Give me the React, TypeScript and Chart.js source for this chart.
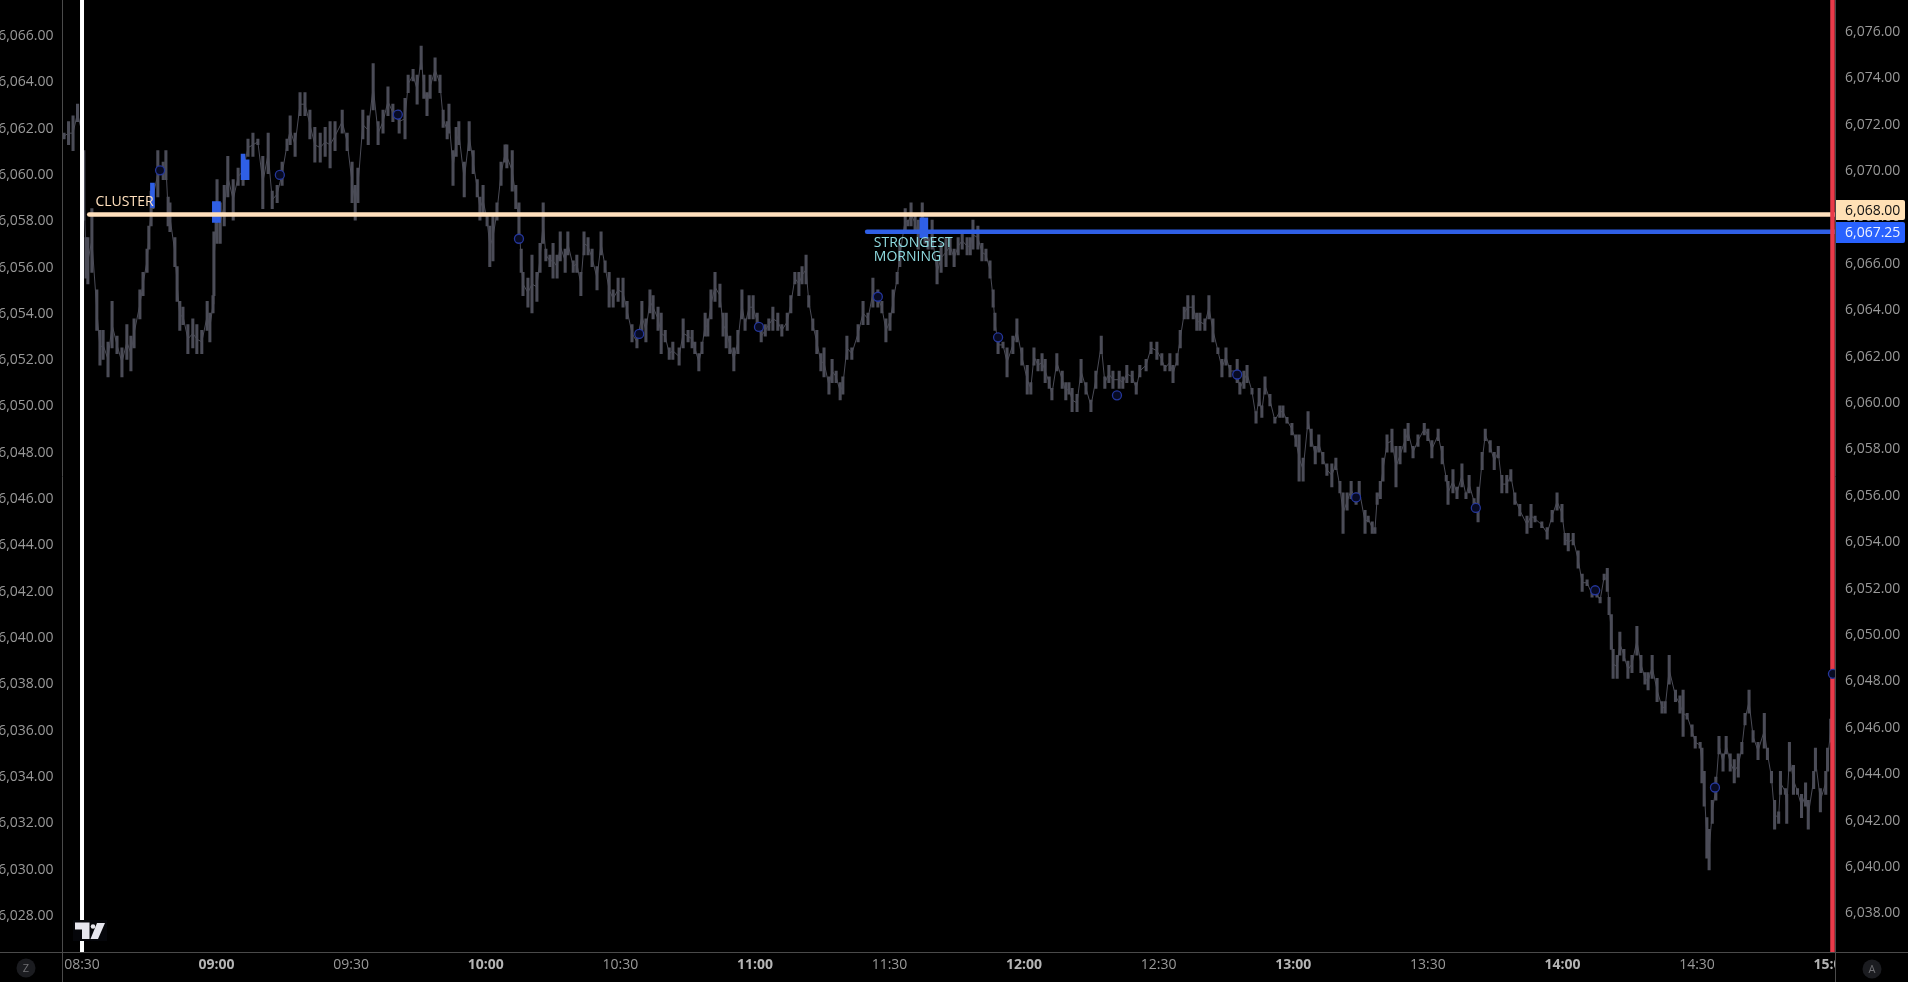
import React, { useEffect, useRef } from "react";
import { Chart, registerables } from "chart.js";

Chart.register(...registerables);

const barTimes = [
  506,507,508,509,510,510.4,510.9,511.3,512.2,513.3,
  514,514.7,515.8,516.7,517.8,518.9,520,520.9,521.6,522.9,
  523.6,524.5,524.9,525.4,525.8,526.9,528.1,528.7,529.2,529.6,
  530.7,531.2,531.8,532.5,533.6,534.7,535.6,536.7,537.9,538.5,
  539.2,539.4,539.9,540.1,540.8,541.7,542.5,543.7,544.8,545.9,
  547,548.1,549.2,550.3,551.5,552.4,553.5,554.6,555.7,556.4,
  557.5,558.6,559.7,560.8,561.9,563.1,564.2,565.3,566.4,568,
  569.1,570.2,570.9,571.5,572.6,573.8,574.9,576,577.1,578.2,
  579.3,580.7,582,582.7,583.8,584.7,585.6,586.2,586.9,587.6,
  588.7,589.8,590.5,591.4,591.8,592.7,593.4,594,595.2,596.3,
  597.2,598.1,598.7,599.4,600.3,600.9,601.6,602.5,603.4,604.3,
  604.7,605.9,606.7,607.4,607.9,608.3,609.4,610.3,611.4,612.1,
  612.8,613.4,614.3,615,615.9,616.6,617.7,618.3,619.5,620.3,
  621.2,621.9,622.8,623.7,624.8,625.7,626.6,627.5,628.4,629.5,
  630.6,631.5,632.6,633.7,634.8,635.7,636.6,637.3,638.4,639.1,
  640,640.9,641.7,643.1,644,645.1,646,646.6,647.5,648.2,
  648.9,649.5,650.2,651.1,652.2,652.9,653.6,654.4,655.3,656.2,
  657.1,657.8,658.7,659.6,660.5,661.4,662.3,663.1,664,665.1,
  666,667.2,668,668.9,669.8,670.5,671.4,672,672.9,673.8,
  674.7,675.4,676.5,677.2,678.1,679,679.6,680.5,681.6,683,
  684.1,685.2,686.3,687.4,688.3,689.2,690.1,690.8,691.7,692.3,
  693.5,694.1,694.8,695.7,696.4,697.3,697.9,698.6,699.5,700.6,
  701.5,702.6,703.5,704.4,705.3,706.2,707.3,708,708.6,709.7,
  710.6,711.5,712.4,713.1,713.5,714.2,715.3,716.2,717.5,718.4,
  719.5,720.7,721.5,722.2,723.1,724,724.7,725.6,726.2,727.3,
  728.5,729.3,730,730.7,731.8,732.7,733.8,734.9,736,737.2,
  738,738.9,739.8,741.2,742,742.9,744.1,745,745.8,747.2,
  748.3,749.6,750.7,751.4,752.5,753.2,754.1,754.8,755.7,756.5,
  757.7,758.5,759.2,760.3,761.2,762.1,763.2,764.1,765,765.9,
  767.5,768.1,769,769.7,770.8,771.7,772.4,773,773.7,774.8,
  775.9,777,777.7,778.6,779.7,780.6,781.3,782.2,783.3,784,
  784.9,785.7,786.6,787.5,788.6,789.5,790.4,791.1,792,792.9,
  794,794.7,796,796.7,797.6,798.2,798.7,799.4,800,800.9,
  802,802.9,803.8,804.9,805.6,806.7,807.8,809.2,810,810.9,
  812.3,813.2,814.1,814.5,815.6,816.5,817.6,818.5,819.2,820.3,
  821.2,822.1,822.8,823.9,824.8,825.7,826.5,827.6,828.5,829.4,
  830.5,832.1,833,833.9,835.4,836.6,837.7,838.8,839.9,840.6,
  841.3,842.4,843.5,844.4,845.5,846.6,847.7,848.4,849.3,850,
  850.4,850.9,851.3,852.2,852.8,853.7,854.6,855.5,856.6,857.5,
  858.4,859.1,860,861.1,862.2,862.9,863.8,865.2,866.2,866.9,
  867.8,868.9,869.6,870.7,871.1,871.6,872.2,872.7,873.4,874.2,
  874.9,875.8,876.5,877.4,878.3,879.2,880,880.7,881.6,882.5,
  883.6,885,885.7,886.6,887.3,888.2,888.6,889.7,890,890.6,
  891.5,892.4,893.3,894.2,894.8,896,896.4,897.5,898.7,899.1,
  899.8,900.2,
];

const barHighs = [
  6071.5,6072,6072.25,6072.75,6072.25,6070.75,6067,6067,6068.25,6064.75,
  6063,6063,6062.5,6064.25,6062.75,6062.25,6063.25,6062.75,6063.5,6064.75,
  6065.5,6066.5,6067.5,6069,6069.25,6070.75,6070.25,6070.75,6068.75,6068.5,
  6067,6065.75,6064.25,6064,6063.25,6063.5,6063.25,6063,6064.25,6063.75,
  6064.5,6067.25,6068.25,6069.5,6068.5,6069.25,6070.5,6069.5,6070,6070.5,
  6071.25,6071.5,6071.25,6070.5,6071.5,6069,6069.25,6070.25,6071.25,6072.25,
  6071.5,6073.25,6073.25,6072.5,6071.75,6071.5,6071.75,6072,6072,6072.5,
  6071.5,6070.25,6069.25,6070,6072.5,6072.25,6074.5,6072,6072.5,6073.5,
  6072.75,6072.5,6073,6074,6074.25,6074,6075.25,6074,6073.25,6074,
  6074.75,6074,6072.5,6072,6072.75,6070.75,6071.75,6072,6070.25,6072,
  6070.75,6069.5,6068.75,6069.25,6068,6067.5,6068,6068.5,6070.25,6071,
  6071,6070.75,6069.25,6068.5,6066.5,6065.5,6065.25,6066.25,6065.5,6066.75,
  6068.5,6066.5,6066.25,6066.75,6066.25,6067.25,6066.5,6067.25,6066,6066.25,
  6065.5,6067.25,6067,6066.5,6065.75,6067.25,6066,6065.5,6064.75,6065.25,
  6065.25,6064.25,6063.25,6062.75,6064.25,6063.5,6064.75,6064.5,6064,6063.75,
  6063,6062.25,6062.5,6062.25,6063.5,6063,6063,6062.5,6062,6062.5,
  6063.75,6063.5,6064.75,6065.5,6065,6063.75,6063.75,6062.75,6062.25,6063,
  6064.75,6063.5,6064.5,6064.5,6063.75,6063,6063.25,6063.5,6064,6063.75,
  6063.25,6063.75,6064.5,6065.5,6065.5,6065.75,6066.25,6064.5,6063.5,6063,
  6062,6062.25,6061,6061.75,6061.25,6060.75,6061,6062.75,6062.25,6063.25,
  6064.25,6063.75,6065.25,6064.75,6064.25,6063.5,6063.75,6064.75,6065.5,6066.75,
  6068.25,6067.75,6068.5,6068,6067.75,6068.5,6067.25,6067,6067.75,6066,
  6066.75,6067,6067,6066.5,6067,6067.25,6067,6067,6067.75,6067.5,
  6066.75,6066.5,6066,6064.75,6063.75,6062.75,6062.5,6062.25,6062.75,6063.5,
  6062.25,6061.5,6060.75,6062.25,6061.75,6062,6061.75,6061,6060.5,6062,
  6061.25,6060.75,6060.75,6060.5,6060.25,6061.75,6060.75,6060,6061.25,6062.75,
  6061,6061.5,6061.25,6061.25,6061,6061.5,6061.25,6060.75,6061.5,6061.75,
  6062.5,6062.5,6062,6061.5,6062,6061.5,6062,6063,6064,6064.5,
  6064.5,6063.75,6063.75,6063.5,6064.5,6063.5,6062.25,6061.75,6062.25,6061.5,
  6061.75,6060.75,6061.25,6061.5,6060.5,6059.5,6060.5,6059.75,6061,6060.25,
  6059.25,6059.75,6059.75,6059.25,6059,6058.5,6058.5,6057.5,6059.5,6058.75,
  6058,6058.5,6057.75,6057.25,6057.25,6057.5,6056.5,6056,6056,6056.5,
  6056,6056.5,6055.25,6055,6054.75,6054.5,6056,6056.5,6057.5,6058.5,
  6058.75,6058,6058,6058.75,6059,6058,6058.5,6059,6058.75,6058.25,
  6058.75,6058,6056.75,6056.5,6057,6056.25,6057.25,6056,6056.75,6055.75,
  6056.25,6057.75,6058.75,6058.25,6057.75,6058,6056.75,6056.75,6057,6056,
  6055.5,6055,6055.5,6055,6054.75,6054.5,6055.25,6056,6055.5,6054.25,
  6054.25,6054.25,6053.5,6052.5,6052.25,6051.75,6051.75,6051.5,6052.5,6052.75,
  6051.5,6050.75,6049.25,6049,6050,6049.25,6048.75,6049,6050.25,6049,
  6048.25,6048.25,6049,6048,6047,6047,6049,6047.5,6047.25,6047.5,
  6046.5,6046,6045.5,6045.25,6045,6044,6042,6041.5,6042.75,6043.75,
  6045.5,6044.75,6045.5,6044.75,6044.5,6044.75,6045.25,6046.5,6047.5,6045.75,
  6045.25,6046.5,6045,6044,6042.75,6042.25,6044,6043.25,6043,6045.25,
  6044.25,6043.25,6043,6043.5,6042.75,6044,6045,6043.25,6044,6045,
  6046.25,6049.25,
];

const barLows = [
  6071.25,6071,6070.75,6072,6070.75,6067.75,6065.25,6065,6065.5,6063,
  6061.5,6061.75,6061,6062.25,6062,6061,6061.75,6061.25,6062.25,6063.5,
  6064.5,6065.5,6066.5,6067.5,6068.25,6068.75,6069.5,6069.5,6067.5,6067.25,
  6065.75,6064.25,6063,6063.25,6062,6062.25,6062,6062,6063,6062.5,
  6063.75,6064.5,6067.25,6066.75,6066.75,6067.5,6068.75,6067.75,6069.25,6069.25,
  6070.5,6070.5,6071,6068.25,6069.75,6068.25,6068.5,6069.25,6070.75,6071,
  6070.5,6072.25,6072.25,6071.25,6070.25,6070.25,6070.5,6070,6070.75,6071.5,
  6070.75,6068.5,6067.75,6068.5,6071.25,6071,6072.5,6071,6071.5,6072.25,
  6072,6071.5,6071.25,6073.25,6073.75,6072.75,6074.25,6073,6072.25,6073,
  6073.75,6073.25,6071.75,6071.25,6071.5,6069.25,6070.5,6071,6068.75,6070.75,
  6069.75,6068.75,6067.75,6068,6067.5,6065.75,6066,6067.75,6069.25,6070.25,
  6070,6069,6068.25,6067,6065.5,6064.5,6064,6063.75,6064.25,6065.5,
  6066.75,6066,6065.75,6065.25,6065.25,6066,6065.5,6066.25,6065.5,6065.5,
  6064.5,6066.25,6066.25,6065.75,6064.75,6066.25,6065.5,6064,6064,6064.25,
  6064,6063.5,6062.5,6062.25,6063,6062.5,6063.75,6063.5,6063,6062,
  6062.5,6061.75,6061.75,6061.5,6062.25,6062.5,6062.25,6062,6061.25,6062,
  6062.75,6062.75,6063.5,6064.25,6064,6062.75,6062.25,6062,6061.25,6062,
  6063.5,6063,6063.5,6063.5,6063,6062.5,6062.75,6063,6063,6063,
  6062.75,6063,6063.75,6065,6064.5,6065,6065,6064,6063,6062,
  6061.25,6061,6060.25,6060.75,6060.75,6060,6060.25,6061.75,6061.75,6062.5,
  6063.25,6063.25,6064,6064,6063.75,6062.5,6063,6063.75,6065,6065.75,
  6067.25,6067.5,6067.5,6067.25,6066.5,6067,6066.75,6066.5,6066.5,6065,
  6065.5,6065.75,6066.25,6065.75,6066.25,6066.5,6066.25,6066.25,6066.5,6066.5,
  6066,6066,6065.25,6064,6063,6062,6062.25,6061,6062,6062.5,
  6061.5,6060.25,6060.25,6061.5,6061.25,6061.25,6060.75,6060.5,6060,6061.25,
  6060.5,6060,6060.25,6059.5,6059.5,6060.75,6060.25,6059.5,6060.5,6062,
  6060.5,6060.75,6060.5,6060.5,6060.5,6060.75,6060.75,6060.25,6061,6061.25,
  6062,6061.75,6061.5,6061.25,6061.25,6060.75,6061.5,6062.25,6063.5,6063.5,
  6063.5,6063,6063,6063,6063.5,6062.5,6062,6061,6061.5,6061,
  6060.75,6060.25,6060.5,6060.75,6060.25,6059,6059.75,6059.25,6060.25,6059.75,
  6059,6059.25,6059.25,6059,6058.5,6058,6056.5,6056.5,6058.75,6058,
  6057.25,6057.75,6057.25,6056.75,6056.25,6057,6056,6054.25,6055.25,6055.75,
  6055.5,6055.75,6054.25,6054.75,6054.25,6054.25,6055.5,6055.75,6056.5,6057.75,
  6057.75,6056.25,6057.25,6057.75,6058.25,6057.5,6058,6058.5,6058.25,6057.5,
  6058.25,6057.25,6056.5,6055.5,6056,6055.75,6056.25,6055.75,6056,6055.5,
  6054.75,6057,6058.25,6057.75,6057,6057.5,6056,6056,6056.5,6055.5,
  6055,6054.25,6054.5,6054.75,6054.5,6054,6054.75,6055.25,6054.75,6053.75,
  6053.5,6053.75,6052.75,6051.75,6052,6051.5,6051.5,6051.25,6052.25,6051.75,
  6050.75,6049.25,6048,6048,6049,6048.75,6048,6048.25,6049,6048.25,
  6047.75,6047.5,6048,6047,6046.5,6046.5,6047.75,6047,6046.5,6045.5,
  6046.25,6045.5,6045,6045,6043.5,6042.5,6040.25,6039.75,6041.75,6042.75,
  6044.75,6044,6044.75,6044,6043.5,6043.75,6044.75,6046,6046.5,6045.25,
  6044.5,6045,6044.5,6043.5,6041.5,6041.75,6043,6043,6041.75,6044,
  6043,6043,6042,6042.5,6041.5,6043.25,6044,6042.25,6043,6044,
  6045.25,6047.25,
];

const blueTimes = [525.7, 539.5, 540.4, 545.9, 546.8, 697.2, 698.1];
const blueHighs = [6069.35, 6068.55, 6068.55, 6070.6, 6070.35, 6067.85, 6067.85];
const blueLows = [6068.3, 6067.65, 6067.65, 6069.5, 6069.5, 6067, 6067];

const markerTimes = [527.4, 554.1, 580.4, 607.4, 634.2, 660.9, 687.4, 714.2, 740.7, 767.5, 794, 820.7, 847.3, 874, 900.3];
const markerPrices = [6069.9, 6069.7, 6072.3, 6066.95, 6062.85, 6063.15, 6064.45, 6062.7, 6060.2, 6061.1, 6055.8, 6055.35, 6051.8, 6043.3, 6048.2];

const clusterPrice = 6068;
const clusterStart = 511.6;
const morningPrice = 6067.25;
const morningStart = 685;
const sessionOpen = 510;
const sessionClose = 900.2;

const timeTicks = [510, 540, 570, 600, 630, 660, 690, 720, 750, 780, 810, 840, 870, 900];
const rightTicks = [6076, 6074, 6072, 6070, 6068, 6066, 6064, 6062, 6060, 6058, 6056, 6054, 6052, 6050, 6048, 6046, 6044, 6042, 6040, 6038];
const leftTicks = [6066, 6064, 6062, 6060, 6058, 6056, 6054, 6052, 6050, 6048, 6046, 6044, 6042, 6040, 6038, 6036, 6034, 6032, 6030, 6028];

const X_MIN = 505.65;
const X_MAX = 900.76;
const R_MIN = 6036.21;
const R_MAX = 6077.24;
const L_MIN = 6026.32;
const L_MAX = 6067.42;

const FONT = '"Open Sans", sans-serif';
const PEACH = "#ffe0bd";
const BLUE = "#2f5fe6";
const RED = "#e93a4a";
const AXIS = "#4a4a4a";
const TEXT = "#999999";
const TRACE = "#4b4c57";

const fmtPrice = (v: number) =>
  v.toLocaleString("en-US", { minimumFractionDigits: 2, maximumFractionDigits: 2 });
const fmtTime = (m: number) =>
  `${String(Math.floor(m / 60)).padStart(2, "0")}:${String(m % 60).padStart(2, "0")}`;

const zeroPad = (scale: any) => {
  scale.paddingTop = 0;
  scale.paddingBottom = 0;
  scale.paddingLeft = 0;
  scale.paddingRight = 0;
};

// nudge a vertical axis' labels down to sit where the reference draws them
const shiftLabels = (scale: any) => {
  const compute = scale._computeLabelItems.bind(scale);
  scale._computeLabelItems = (area: any) =>
    compute(area).map((item: any) => ({
      ...item,
      options: {
        ...item.options,
        translation: [item.options.translation[0], item.options.translation[1] + 1.5],
      },
    }));
};

const overlay = {
  id: "overlay",
  afterDatasetsDraw(chart: any) {
    const { ctx, scales } = chart;
    const x = scales.x;
    const y = scales.y;
    ctx.save();
    ctx.font = `14px ${FONT}`;
    ctx.textBaseline = "middle";
    ctx.textAlign = "left";
    ctx.fillStyle = PEACH;
    ctx.fillText("CLUSTER", x.getPixelForValue(513), y.getPixelForValue(clusterPrice) - 12);
    ctx.fillStyle = "#8fdbe0";
    ctx.fillText("STRONGEST", x.getPixelForValue(686.5), y.getPixelForValue(morningPrice) + 11);
    ctx.fillText("MORNING", x.getPixelForValue(686.5), y.getPixelForValue(morningPrice) + 25);
    ctx.restore();
  },
  afterDraw(chart: any) {
    const { ctx, chartArea, width, height, scales } = chart;
    const y = scales.y;
    ctx.save();
    // clip the time axis at the price axis
    ctx.fillStyle = "#000";
    ctx.fillRect(chartArea.right, chartArea.bottom + 1, width - chartArea.right, height - chartArea.bottom);
    ctx.strokeStyle = AXIS;
    ctx.lineWidth = 1;
    ctx.beginPath();
    ctx.moveTo(chartArea.left, chartArea.bottom);
    ctx.lineTo(chartArea.left, height);
    ctx.moveTo(chartArea.right + 0.5, chartArea.bottom);
    ctx.lineTo(chartArea.right + 0.5, height);
    ctx.moveTo(0, chartArea.bottom + 0.5);
    ctx.lineTo(width, chartArea.bottom + 0.5);
    ctx.stroke();

    // last-value tags
    const tag = (price: number, top: number, h: number, bg: string, fg: string) => {
      ctx.fillStyle = bg;
      ctx.beginPath();
      ctx.roundRect(chartArea.right + 1, top, 69, h, [0, 2, 2, 0]);
      ctx.fill();
      ctx.fillStyle = fg;
      ctx.font = `14px ${FONT}`;
      ctx.textAlign = "left";
      ctx.textBaseline = "middle";
      ctx.fillText(fmtPrice(price), chartArea.right + 10, top + h / 2 + 1);
    };
    tag(clusterPrice, Math.round(y.getPixelForValue(clusterPrice)) - 14, 20, "#ffe0b5", "#111");
    tag(morningPrice, Math.round(y.getPixelForValue(morningPrice)) - 10, 21, "#2962ff", "#eef2ff");

    // corner badges
    const badge = (cx: number, cy: number, s: string) => {
      ctx.fillStyle = "#1b1c20";
      ctx.beginPath();
      ctx.arc(cx, cy, 9.5, 0, Math.PI * 2);
      ctx.fill();
      ctx.fillStyle = "#6e6e72";
      ctx.font = `11px ${FONT}`;
      ctx.textAlign = "center";
      ctx.textBaseline = "middle";
      ctx.fillText(s, cx, cy + 0.5);
    };
    badge(26, 968, "Z");
    badge(1872, 969, "A");

    // watermark
    ctx.fillStyle = "#05060a";
    ctx.fillRect(73, 920, 34, 21);
    ctx.fillStyle = "#e6e6ee";
    ctx.beginPath();
    ctx.moveTo(75, 922.5);
    ctx.lineTo(89.5, 922.5);
    ctx.lineTo(89.5, 939);
    ctx.lineTo(82, 939);
    ctx.lineTo(82, 929.5);
    ctx.lineTo(75, 929.5);
    ctx.closePath();
    ctx.moveTo(97, 923);
    ctx.lineTo(105, 923);
    ctx.lineTo(98, 939);
    ctx.lineTo(90.5, 939);
    ctx.closePath();
    ctx.fill();
    ctx.beginPath();
    ctx.arc(93, 926.5, 2.3, 0, Math.PI * 2);
    ctx.fill();
    ctx.restore();
  },
};

export default function App() {
  const ref = useRef<HTMLCanvasElement | null>(null);

  useEffect(() => {
    if (!ref.current) return;
    const chart = new Chart(ref.current, {
      type: "bar",
      data: {
        datasets: [
          {
            type: "line",
            data: markerTimes.map((t, i) => ({ x: t, y: markerPrices[i] })),
            showLine: false,
            pointRadius: 4.5,
            pointBorderWidth: 1.3,
            pointBorderColor: "#24369a",
            pointBackgroundColor: "#070a22",
            order: 1,
            yAxisID: "y",
          },
          {
            type: "line",
            data: [
              { x: sessionClose, y: R_MIN },
              { x: sessionClose, y: R_MAX },
            ],
            borderColor: RED,
            borderWidth: 4.5,
            pointRadius: 0,
            order: 2,
            yAxisID: "y",
          },
          {
            type: "line",
            data: [
              { x: clusterStart, y: clusterPrice },
              { x: X_MAX, y: clusterPrice },
            ],
            borderColor: PEACH,
            borderWidth: 4.5,
            borderCapStyle: "round",
            pointRadius: 0,
            order: 3,
            yAxisID: "y",
          },
          {
            type: "line",
            data: [
              { x: morningStart, y: morningPrice },
              { x: X_MAX, y: morningPrice },
            ],
            borderColor: BLUE,
            borderWidth: 4.5,
            borderCapStyle: "round",
            pointRadius: 0,
            order: 3,
            yAxisID: "y",
          },
          {
            type: "bar",
            data: blueTimes.map((t, i) => ({ x: t, y: [blueLows[i], blueHighs[i]] })),
            backgroundColor: BLUE,
            barThickness: 4,
            grouped: false,
            order: 4,
            yAxisID: "y",
          },
          {
            type: "line",
            data: [
              { x: sessionOpen, y: R_MIN },
              { x: sessionOpen, y: R_MAX },
            ],
            borderColor: "#ffffff",
            borderWidth: 4,
            pointRadius: 0,
            order: 5,
            yAxisID: "y",
          },
          {
            type: "bar",
            data: barTimes.map((t, i) => ({ x: t, y: [barLows[i], barHighs[i]] })),
            backgroundColor: TRACE,
            barThickness: 2.4,
            grouped: false,
            order: 6,
            yAxisID: "y",
          },
          {
            type: "line",
            data: barTimes.map((t, i) => ({ x: t, y: (barLows[i] + barHighs[i]) / 2 })),
            borderColor: TRACE,
            borderWidth: 1,
            pointRadius: 0,
            order: 7,
            yAxisID: "y",
          },
        ] as any,
      },
      options: {
        animation: false,
        responsive: false,
        devicePixelRatio: 1,
        layout: { padding: 0, autoPadding: false },
        plugins: { legend: { display: false }, tooltip: { enabled: false } },
        scales: {
          x: {
            type: "linear",
            position: "bottom",
            min: X_MIN,
            max: X_MAX,
            offset: false,
            grid: { display: false, drawTicks: false },
            border: { display: false },
            afterBuildTicks: (s: any) => {
              s.ticks = timeTicks.map((value) => ({ value }));
            },
            afterFit: (s: any) => {
              s.height = 30;
              zeroPad(s);
            },
            ticks: {
              autoSkip: false,
              maxRotation: 0,
              minRotation: 0,
              padding: 5,
              font: (c: any) => ({
                family: FONT,
                size: 14,
                weight: c.tick && c.tick.value % 60 === 0 ? "bold" : "normal",
              }),
              color: (c: any) => (c.tick && c.tick.value % 60 === 0 ? "#b4b4b4" : TEXT),
              callback: (v: any) => fmtTime(Number(v)),
            },
          },
          y: {
            type: "linear",
            position: "right",
            min: R_MIN,
            max: R_MAX,
            grid: { display: false, drawTicks: false },
            border: { color: AXIS },
            afterBuildTicks: (s: any) => {
              s.ticks = rightTicks.map((value) => ({ value }));
            },
            afterFit: (s: any) => {
              s.width = 73;
              zeroPad(s);
            },
            afterUpdate: shiftLabels,
            ticks: {
              autoSkip: false,
              padding: 10,
              color: TEXT,
              font: { family: FONT, size: 14 },
              callback: (v: any) => fmtPrice(Number(v)),
            },
          },
          yLeft: {
            type: "linear",
            position: "left",
            min: L_MIN,
            max: L_MAX,
            grid: { display: false, drawTicks: false },
            border: { color: AXIS },
            afterBuildTicks: (s: any) => {
              s.ticks = leftTicks.map((value) => ({ value }));
            },
            afterFit: (s: any) => {
              s.width = 62.5;
              zeroPad(s);
            },
            afterUpdate: shiftLabels,
            ticks: {
              autoSkip: false,
              padding: 9,
              color: TEXT,
              font: { family: FONT, size: 14 },
              callback: (v: any) => fmtPrice(Number(v)),
            },
          },
        },
      } as any,
      plugins: [overlay],
    });
    return () => chart.destroy();
  }, []);

  return (
    <div style={{ position: "fixed", inset: 0, width: 1908, height: 982, background: "#000", overflow: "hidden" }}>
      <canvas ref={ref} width={1908} height={982} style={{ display: "block", width: 1908, height: 982 }} />
    </div>
  );
}
